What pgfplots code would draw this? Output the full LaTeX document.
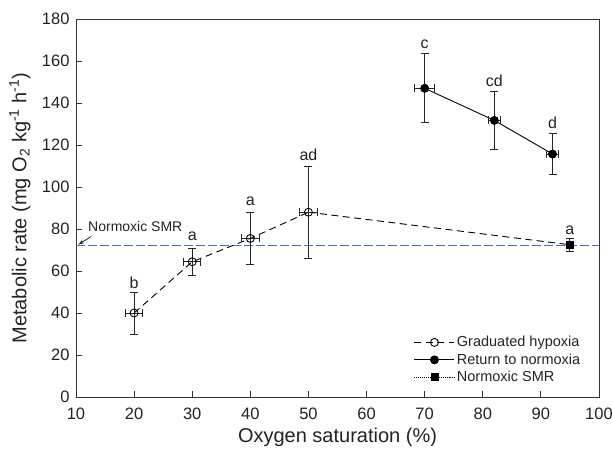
\documentclass[border=0pt]{standalone}
\usepackage{fontspec}
\setmainfont{Liberation Sans}
\usepackage{pgfplots}
\pgfplotsset{compat=1.18}
\usetikzlibrary{arrows.meta}
\definecolor{smrblue}{RGB}{68,114,196}
\definecolor{txt}{RGB}{35,35,35}
\begin{document}
\begin{tikzpicture}
\begin{axis}[
  at={(0,0)}, anchor=south west,
  scale only axis, width=523bp, height=378bp,
  xmin=10, xmax=100, ymin=0, ymax=180,
  xtick={10,20,...,100}, ytick={0,20,...,180},
  tick align=inside, xtick pos=bottom, ytick pos=left,
  major tick length=6bp,
  axis line style={line width=0.9pt, black!80},
  tick style={line width=0.9pt, black!80},
  /pgf/number format/assume math mode=true,
  /pgf/number format/1000 sep={},
  tick label style={font=\fontsize{16.5bp}{19bp}\selectfont, text=txt},
  xticklabel style={yshift=-7bp},
  yticklabel style={xshift=-3bp},
  xlabel={Oxygen saturation (\%)},
  ylabel={Metabolic rate (mg O\textsubscript{2} kg\textsuperscript{-1} h\textsuperscript{-1})},
  label style={font=\fontsize{20bp}{23bp}\selectfont, text=txt},
  xlabel style={at={(axis description cs:0.5,0)}, anchor=center, yshift=-40bp},
  ylabel style={at={(axis description cs:0,0.5)}, anchor=center, yshift=56bp},
  clip=false,
  legend cell align=left,
  legend style={draw=none, fill=none, at={(0.974,0.025)}, anchor=south east,
    font=\fontsize{14.5bp}{17bp}\selectfont, text=txt, row sep=1.5bp},
  legend image code/.code={\draw[mark repeat=2, mark phase=2, #1] plot coordinates {(0bp,0bp) (20bp,0bp) (40bp,0bp)};},
  error bars/error bar style={solid, line width=0.9pt, black!85},
  error bars/error mark options={rotate=90, mark size=4bp, line width=0.9pt, black!85, solid},
]
% Normoxic SMR reference line
\addplot[color=smrblue, line width=1.2pt, dash pattern=on 9bp off 3bp, mark=none, forget plot] coordinates {(10,72) (100,72)};
% dashed segment to SMR
\addplot[black, line width=0.9pt, dash pattern=on 7bp off 4.5bp, forget plot] coordinates {(50,88) (95,72.5)};
% Graduated hypoxia
\addplot[black, line width=0.9pt, dash pattern=on 7bp off 4.5bp, mark=o, mark size=4bp, mark options={solid, fill=white},
  error bars/.cd, x dir=both, x explicit, y dir=both, y explicit]
  table[x=x, y=y, x error=ex, y error=ey] {
x  y     ex   ey
20 40    1.5  10
30 64.4  1.5  6.5
40 75.5  1.5  12.5
50 88    1.5  22
};
\addlegendentry{Graduated hypoxia}
% Return to normoxia
\addplot[black, solid, line width=0.9pt, mark=*, mark size=4bp, mark options={solid, fill=black},
  error bars/.cd, x dir=both, x explicit, y dir=both, y explicit]
  table[x=x, y=y, x error=ex, y error=ey] {
x  y     ex   ey
70 147   1.7  16.5
82 131.7 1.0  13.6
92 115.7 1.0  9.8
};
\addlegendentry{Return to normoxia}
% Normoxic SMR point
\addplot[black, densely dotted, line width=0.9pt, mark=square*, mark size=3.5bp, mark options={solid, fill=black},
  error bars/.cd, x dir=both, x explicit, y dir=both, y explicit]
  table[x=x, y=y, x error=ex, y error=ey] {
x  y     ex   ey
95 72.4  0.6  3
};
\addlegendentry{Normoxic SMR}
% significance letters
\begin{scope}[every node/.style={font=\fontsize{16bp}{19bp}\selectfont, text=txt}]
\node at (axis cs:20,54.5) {b};
\node at (axis cs:30,76.5) {a};
\node at (axis cs:40,93) {a};
\node at (axis cs:50,115.5) {ad};
\node at (axis cs:70,168) {c};
\node at (axis cs:82,150.5) {cd};
\node at (axis cs:92,130.5) {d};
\node at (axis cs:95,79.5) {a};
\end{scope}
\node[font=\fontsize{14bp}{17bp}\selectfont, text=txt] at (axis cs:20.2,81) {Normoxic SMR};
\draw[black!85, line width=0.8pt, -{Stealth[length=6bp, width=4bp]}] (axis cs:12.6,76.4) -- (axis cs:10.4,72.6);
\end{axis}
\pgfresetboundingbox
\path (-76bp,-62bp) rectangle (536bp,397bp);
\end{tikzpicture}
\end{document}
